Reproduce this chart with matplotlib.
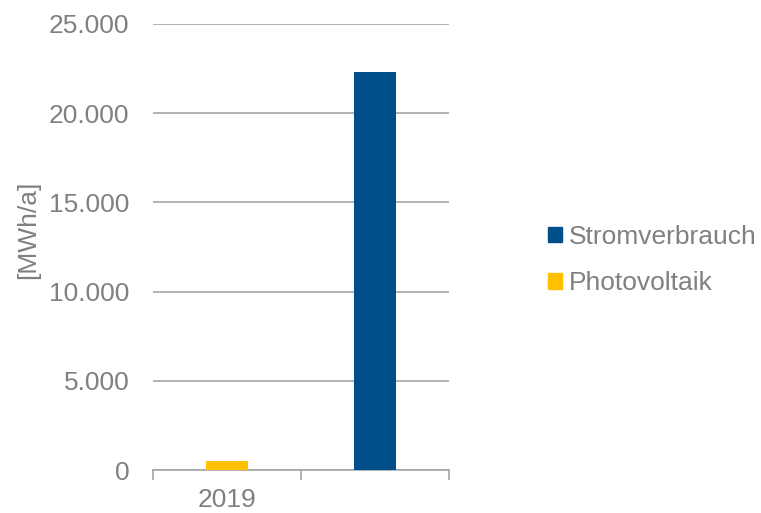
import matplotlib
matplotlib.use("Agg")
import matplotlib.pyplot as plt
from matplotlib.patches import Patch
from matplotlib.ticker import FuncFormatter

plt.rcParams['font.family'] = ['Liberation Sans', 'DejaVu Sans']

categories = ["2019", ""]
series_names = ["Stromverbrauch", "Photovoltaik"]
photovoltaik = [480, 0]
stromverbrauch = [0, 22300]
colors = {"Stromverbrauch": "#004f8b", "Photovoltaik": "#ffc000"}

text_gray = "#808080"
grid_gray = "#a6a6a6"
fs = 19

fig = plt.figure(figsize=(7.61, 5.13), dpi=100)
ax = fig.add_axes([153 / 761, 1 - 470 / 513, (449 - 153) / 761, (470 - 24) / 513])

width = 0.29
ax.bar([0], [photovoltaik[0]], width, color=colors["Photovoltaik"], zorder=3)
ax.bar([1], [stromverbrauch[1]], width, color=colors["Stromverbrauch"], zorder=3)

ax.set_xlim(-0.5, 1.5)
ax.set_ylim(0, 25000)
ax.set_yticks(range(0, 25001, 5000))
ax.yaxis.set_major_formatter(FuncFormatter(lambda v, p: f"{int(v):,}".replace(",", ".")))
ax.yaxis.grid(True, color=grid_gray, linewidth=1.2, zorder=0)
ax.tick_params(axis='y', length=0, labelsize=fs, labelcolor=text_gray, pad=17)

ax.set_xticks([0, 1])
ax.set_xticklabels(categories)
ax.set_xticks([-0.5, 0.5, 1.5], minor=True)
ax.tick_params(axis='x', which='major', length=0, labelsize=fs, labelcolor=text_gray, pad=13)
ax.tick_params(axis='x', which='minor', length=7, width=1.2, color=grid_gray, direction='out')

for side in ['top', 'right', 'left']:
    ax.spines[side].set_visible(False)
ax.spines['bottom'].set_color(grid_gray)
ax.spines['bottom'].set_linewidth(1.2)

fig.text(28 / 761, 1 - 230 / 513, "[MWh/a]", rotation=90, ha='center', va='center',
         fontsize=fs, color=text_gray)

handles = [Patch(color=colors[n]) for n in series_names]
fig.legend(handles, series_names, loc='center left', bbox_to_anchor=(548 / 761, 1 - 260 / 513),
           frameon=False, fontsize=fs, labelcolor=text_gray, handlelength=0.53, handleheight=0.53,
           handletextpad=0.27, labelspacing=0.86, borderpad=0, borderaxespad=0)

fig.savefig("out.png", dpi=100)
